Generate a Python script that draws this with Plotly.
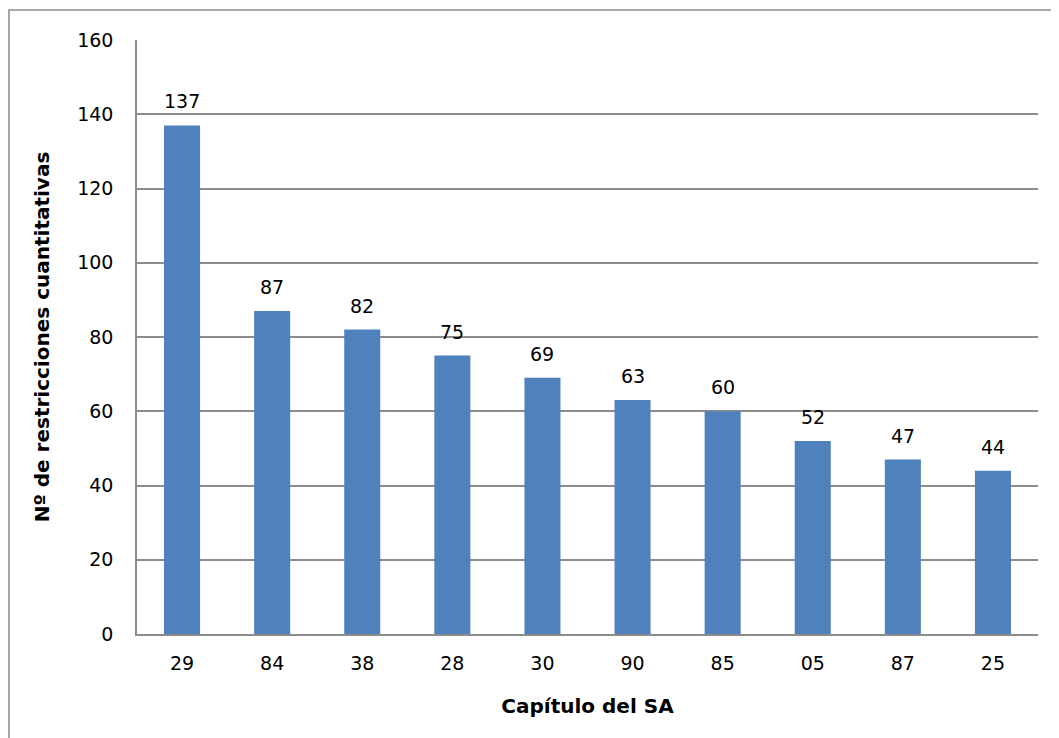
import plotly.graph_objects as go

capitulos = ["29", "84", "38", "28", "30", "90", "85", "05", "87", "25"]
restricciones = [137, 87, 82, 75, 69, 63, 60, 52, 47, 44]
y_ticks = [0, 20, 40, 60, 80, 100, 120, 140, 160]

W, H = 1059, 738
L, R, T, B = 129, 29, 32, 112
pw, ph = W - L - R, H - T - B

fig = go.Figure(go.Bar(
    x=capitulos, y=restricciones,
    marker=dict(color="#4F81BD", line=dict(width=0)),
    width=0.4,
))

for i, v in enumerate(restricciones):
    fig.add_annotation(x=i, y=v, xref="x", yref="y", text=str(v), showarrow=False,
                       yanchor="bottom", yshift=11,
                       font=dict(family="DejaVu Sans", size=19, color="#000"))

fig.update_layout(
    width=W, height=H,
    margin=dict(l=L, r=R, t=T, b=B, pad=0),
    paper_bgcolor="white", plot_bgcolor="white",
    font=dict(family="DejaVu Sans", size=19, color="#000"),
    showlegend=False,
    xaxis=dict(
        type="category", categoryorder="array", categoryarray=capitulos,
        range=[-0.5, len(capitulos) - 0.5],
        showgrid=False, showline=True, linecolor="#8c8c8c", linewidth=1.5,
        ticks="", ticklabelstandoff=11,
        title=dict(text="<b>Capítulo del SA</b>", font=dict(size=20), standoff=26),
    ),
    yaxis=dict(
        range=[0, 160], tickvals=y_ticks, showgrid=True, gridcolor="#8c8c8c", gridwidth=1.5,
        showline=True, linecolor="#8c8c8c", linewidth=1.5, ticks="", ticklabelstandoff=18,
        zeroline=False,
        title=dict(text="<b>Nº de restricciones cuantitativas</b>", font=dict(size=20), standoff=22),
    ),
    shapes=[dict(
        type="rect", xref="paper", yref="paper",
        x0=(1 - L) / pw, x1=1.2, y0=-0.5, y1=1 + (T - 2) / ph,
        line=dict(color="#8c8c8c", width=1.5), layer="below",
    )],
)

fig.write_html("out.html")
